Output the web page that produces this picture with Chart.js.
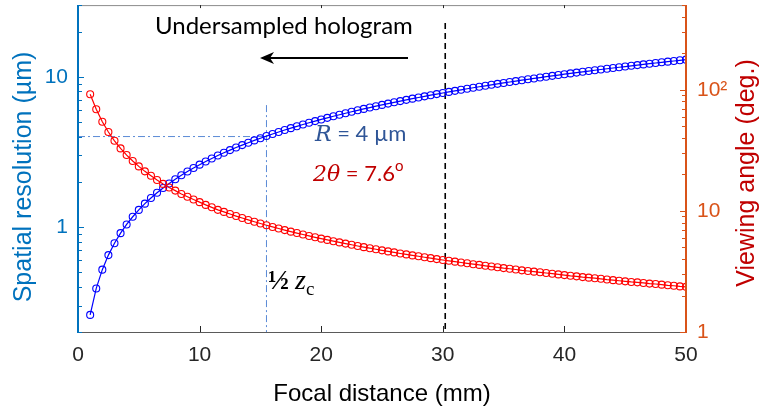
<!DOCTYPE html>
<html>
<head>
<meta charset="utf-8">
<script src="https://cdn.jsdelivr.net/npm/chart.js@4"></script>
<style>
  html, body { margin: 0; padding: 0; background: #fff; }
  #chart { display: block; }
</style>
</head>
<body>
<canvas id="chart" width="765" height="413"></canvas>
<script>
// focal distance (mm), one sample every 0.5 mm
const focalDistance = [
  1, 1.5, 2, 2.5, 3, 3.5, 4, 4.5, 5, 5.5, 6, 6.5, 7, 7.5, 8, 8.5, 9, 9.5, 10, 10.5,
  11, 11.5, 12, 12.5, 13, 13.5, 14, 14.5, 15, 15.5, 16, 16.5, 17, 17.5, 18, 18.5, 19, 19.5, 20, 20.5,
  21, 21.5, 22, 22.5, 23, 23.5, 24, 24.5, 25, 25.5, 26, 26.5, 27, 27.5, 28, 28.5, 29, 29.5, 30, 30.5,
  31, 31.5, 32, 32.5, 33, 33.5, 34, 34.5, 35, 35.5, 36, 36.5, 37, 37.5, 38, 38.5, 39, 39.5, 40, 40.5,
  41, 41.5, 42, 42.5, 43, 43.5, 44, 44.5, 45, 45.5, 46, 46.5, 47, 47.5, 48, 48.5, 49, 49.5, 50
];

// spatial resolution (µm), left axis
const resolution = [
  0.26, 0.39, 0.52, 0.65, 0.78, 0.91, 1.04, 1.17, 1.30, 1.43, 1.56, 1.69, 1.82, 1.95, 2.08, 2.21, 2.34, 2.47, 2.60, 2.73,
  2.86, 2.99, 3.12, 3.25, 3.38, 3.51, 3.64, 3.77, 3.90, 4.03, 4.16, 4.29, 4.42, 4.55, 4.68, 4.81, 4.94, 5.07, 5.20, 5.33,
  5.46, 5.59, 5.72, 5.85, 5.98, 6.11, 6.24, 6.37, 6.50, 6.63, 6.76, 6.89, 7.02, 7.15, 7.28, 7.41, 7.54, 7.67, 7.80, 7.93,
  8.06, 8.19, 8.32, 8.45, 8.58, 8.71, 8.84, 8.97, 9.10, 9.23, 9.36, 9.49, 9.62, 9.75, 9.88, 10.01, 10.14, 10.27, 10.40, 10.53,
  10.66, 10.79, 10.92, 11.05, 11.18, 11.31, 11.44, 11.57, 11.70, 11.83, 11.96, 12.09, 12.22, 12.35, 12.48, 12.61, 12.74, 12.87, 13.00
];

// viewing angle 2θ (deg.), right axis
const viewingAngle = [
  91.7, 69.0, 54.5, 44.8, 37.9, 32.8, 28.9, 25.8, 23.3, 21.2, 19.5, 18.0, 16.7, 15.6, 14.7, 13.8, 13.1, 12.4, 11.8, 11.2,
  10.7, 10.2, 9.81, 9.42, 9.06, 8.73, 8.42, 8.13, 7.86, 7.61, 7.37, 7.15, 6.94, 6.74, 6.56, 6.38, 6.21, 6.05, 5.90, 5.76,
  5.62, 5.49, 5.37, 5.25, 5.13, 5.02, 4.92, 4.82, 4.72, 4.63, 4.54, 4.45, 4.37, 4.29, 4.22, 4.14, 4.07, 4.00, 3.93, 3.87,
  3.81, 3.75, 3.69, 3.63, 3.58, 3.52, 3.47, 3.42, 3.37, 3.33, 3.28, 3.23, 3.19, 3.15, 3.11, 3.07, 3.03, 2.99, 2.95, 2.91,
  2.88, 2.84, 2.81, 2.78, 2.75, 2.71, 2.68, 2.65, 2.62, 2.59, 2.57, 2.54, 2.51, 2.49, 2.46, 2.43, 2.41, 2.38, 2.36
];

const xTicks = [0, 10, 20, 30, 40, 50];
const leftTicks = [1, 10];
const rightTicks = [1, 10, 100];
const rightTickLabels = ['1', '10', '10\u00B2'];

// reference markers
const halfZc = 15.5;      // mm
const rAtHalfZc = 4;      // µm
const undersampledZ = 30.2; // mm

const BLUE_AX = '#0072BD';
const ORANGE_AX = '#D95319';

function line(ctx, x1, y1, x2, y2) {
  ctx.beginPath();
  ctx.moveTo(x1, y1);
  ctx.lineTo(x2, y2);
  ctx.stroke();
}

function runs(ctx, x, y, parts) {
  parts.forEach(p => {
    ctx.font = p.font;
    ctx.fillText(p.t, x, y + (p.dy || 0));
    x += ctx.measureText(p.t).width;
  });
}

const refLines = {
  id: 'refLines',
  beforeDatasetsDraw(chart) {
    const ctx = chart.ctx;
    const xs = chart.scales.x, yl = chart.scales.y;
    const { left, top, bottom } = chart.chartArea;
    ctx.save();
    // dash-dot lines at R = 4 µm
    ctx.strokeStyle = '#5B8AD6';
    ctx.lineWidth = 1;
    ctx.setLineDash([7, 3, 2, 3]);
    const px = xs.getPixelForValue(halfZc);
    const py = yl.getPixelForValue(rAtHalfZc);
    line(ctx, left, py, px, py);
    line(ctx, px, top + 100, px, bottom);
    // dashed line
    ctx.strokeStyle = '#000';
    ctx.lineWidth = 1.6;
    ctx.setLineDash([6, 4]);
    const dx = xs.getPixelForValue(undersampledZ);
    line(ctx, dx, top + 18, dx, bottom);
    ctx.restore();
  }
};

const axesAndText = {
  id: 'axesAndText',
  afterDraw(chart) {
    const ctx = chart.ctx;
    const xs = chart.scales.x, yl = chart.scales.y, yr = chart.scales.y1;
    const { left, right, top, bottom } = chart.chartArea;
    ctx.save();

    // frame
    ctx.lineWidth = 1;
    ctx.strokeStyle = '#8c8c8c';
    line(ctx, left, top + 0.5, right, top + 0.5);
    ctx.strokeStyle = '#5a5a5a';
    line(ctx, left, bottom + 0.5, right, bottom + 0.5);
    ctx.strokeStyle = '#262626';
    xTicks.slice(1, -1).forEach(v => {
      const x = Math.round(xs.getPixelForValue(v)) + 0.5;
      line(ctx, x, bottom, x, bottom - 6);
      line(ctx, x, top, x, top + 3);
    });

    // left log axis
    ctx.strokeStyle = BLUE_AX;
    ctx.lineWidth = 2;
    line(ctx, left, top, left, bottom + 1);
    ctx.lineWidth = 1;
    [0.1, 1, 10].forEach(d => {
      for (let k = 1; k < 10; k++) {
        const v = d * k;
        if (v < 0.2 || v > 30) continue;
        const y = Math.round(yl.getPixelForValue(v)) + 0.5;
        line(ctx, left, y, left + (k === 1 ? 6 : 4), y);
      }
    });

    // right log axis
    ctx.strokeStyle = ORANGE_AX;
    ctx.lineWidth = 2;
    line(ctx, right, top, right, bottom + 1);
    ctx.lineWidth = 1;
    [1, 10, 100].forEach(d => {
      for (let k = 1; k < 10; k++) {
        const v = d * k;
        if (v < 1 || v > 500) continue;
        const y = Math.round(yr.getPixelForValue(v)) + 0.5;
        line(ctx, right, y, right - (k === 1 ? 6 : 4), y);
      }
    });

    // axis titles
    ctx.textAlign = 'center';
    ctx.textBaseline = 'middle';
    ctx.font = '24px "Liberation Sans", Arial, sans-serif';
    ctx.fillStyle = '#000';
    ctx.fillText('Focal distance (mm)', (left + right) / 2, 394);

    ctx.font = '25px "Liberation Sans", Arial, sans-serif';
    ctx.fillStyle = BLUE_AX;
    ctx.save();
    ctx.translate(24, 177);
    ctx.rotate(-Math.PI / 2);
    ctx.fillText('Spatial resolution (\u00B5m)', 0, 0);
    ctx.restore();

    ctx.fillStyle = '#C00000';
    ctx.save();
    ctx.translate(747, 173);
    ctx.rotate(-Math.PI / 2);
    ctx.fillText('Viewing angle (deg.)', 0, 0);
    ctx.restore();

    // annotations
    ctx.textAlign = 'left';
    ctx.textBaseline = 'alphabetic';
    ctx.fillStyle = '#000';
    ctx.font = '24px Lato, sans-serif';
    ctx.fillText('Undersampled hologram', 155, 34);

    // arrow pointing left
    ctx.strokeStyle = '#000';
    ctx.lineWidth = 2;
    line(ctx, 408, 58, 268, 58);
    ctx.beginPath();
    ctx.moveTo(260, 58);
    ctx.lineTo(274, 52);
    ctx.lineTo(270, 58);
    ctx.lineTo(274, 64);
    ctx.closePath();
    ctx.fillStyle = '#000';
    ctx.fill();

    ctx.fillStyle = '#2F5597';
    runs(ctx, 315, 141, [
      { t: 'R', font: 'italic 22px "DejaVu Serif", serif' },
      { t: ' = 4 \u00B5m', font: '22px Lato, sans-serif' }
    ]);

    ctx.fillStyle = '#C00000';
    runs(ctx, 313, 181, [
      { t: '2\u03B8', font: 'italic 22px "DejaVu Serif", serif' },
      { t: ' = 7.6', font: '22px Lato, sans-serif' },
      { t: 'o', font: '15px Lato, sans-serif', dy: -10 }
    ]);

    ctx.fillStyle = '#000';
    runs(ctx, 268, 289, [
      { t: '\u00BD', font: 'bold 28px "Liberation Serif", serif' },
      { t: ' ', font: '24px "Liberation Serif", serif' },
      { t: 'z', font: 'italic 28px "Liberation Serif", serif' },
      { t: 'c', font: '19px "Liberation Serif", serif', dy: 6 }
    ]);

    ctx.restore();
  }
};

const tickFont = { family: '"Liberation Sans", Arial, sans-serif', size: 21 };

function fixWidth(w) {
  return s => { s.width = w; s.paddingTop = 0; s.paddingBottom = 0; };
}

const pointStyle = color => ({
  borderColor: color,
  borderWidth: 1.2,
  pointRadius: 3.5,
  pointBorderWidth: 1.1,
  pointBorderColor: color,
  pointBackgroundColor: 'rgba(0,0,0,0)',
  tension: 0,
  fill: false
});

new Chart(document.getElementById('chart'), {
  type: 'line',
  data: {
    datasets: [
      Object.assign({
        label: 'Viewing angle',
        data: focalDistance.map((z, i) => ({ x: z, y: viewingAngle[i] })),
        yAxisID: 'y1'
      }, pointStyle('#FF0000')),
      Object.assign({
        label: 'Spatial resolution',
        data: focalDistance.map((z, i) => ({ x: z, y: resolution[i] })),
        yAxisID: 'y'
      }, pointStyle('#0000FF'))
    ]
  },
  options: {
    responsive: false,
    animation: false,
    layout: { padding: { top: 2 } },
    plugins: { legend: { display: false }, tooltip: { enabled: false } },
    scales: {
      x: {
        type: 'linear',
        min: 0, max: 50,
        grid: { display: false, drawTicks: false },
        border: { display: false },
        afterBuildTicks: s => { s.ticks = xTicks.map(v => ({ value: v })); },
        afterFit: s => { s.height = 81; s.paddingLeft = 0; s.paddingRight = 0; },
        ticks: { color: '#262626', font: tickFont, padding: 11, maxRotation: 0 }
      },
      y: {
        type: 'logarithmic',
        position: 'left',
        min: 0.2, max: 30,
        grid: { display: false, drawTicks: false },
        border: { display: false },
        afterBuildTicks: s => { s.ticks = leftTicks.map(v => ({ value: v })); },
        afterFit: fixWidth(78),
        ticks: { color: BLUE_AX, font: tickFont, padding: 10, callback: v => String(v) }
      },
      y1: {
        type: 'logarithmic',
        position: 'right',
        min: 1, max: 500,
        grid: { display: false, drawTicks: false },
        border: { display: false },
        afterBuildTicks: s => { s.ticks = rightTicks.map(v => ({ value: v })); },
        afterFit: fixWidth(79),
        ticks: {
          color: ORANGE_AX, font: tickFont, padding: 11,
          callback: v => rightTickLabels[rightTicks.indexOf(v)]
        }
      }
    }
  },
  plugins: [refLines, axesAndText]
});
</script>
</body>
</html>
